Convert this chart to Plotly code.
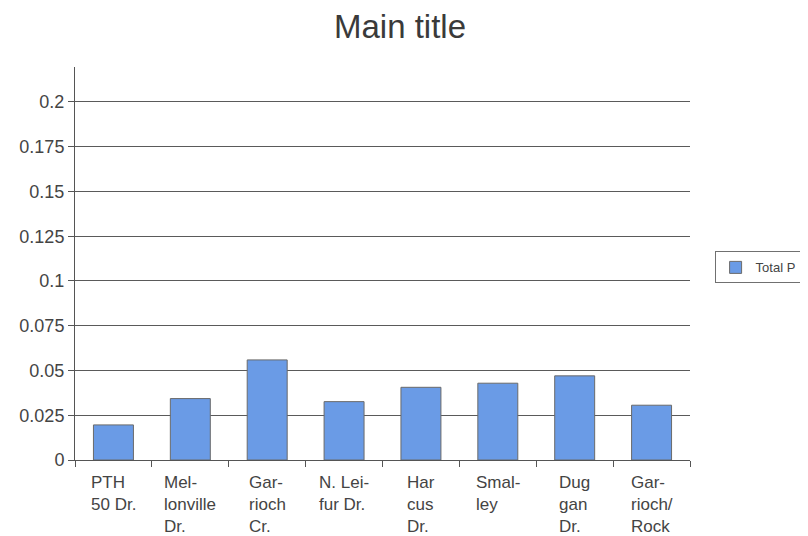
import plotly.graph_objects as go

categories = ["PTH 50 Dr.", "Mellonville Dr.", "Garrioch Cr.", "N. Leifur Dr.",
              "Harcus Dr.", "Smalley", "Duggan Dr.", "Garrioch/Rock"]
tick_labels = ["PTH<br>50 Dr.", "Mel-<br>lonville<br>Dr.", "Gar-<br>rioch<br>Cr.",
               "N. Lei-<br>fur Dr.", "Har<br>cus<br>Dr.", "Smal-<br>ley",
               "Dug<br>gan<br>Dr.", "Gar-<br>rioch/<br>Rock"]
total_p = [0.0196, 0.0343, 0.0559, 0.0326, 0.0406, 0.0429, 0.0470, 0.0306]
y_tickvals = [0, 0.025, 0.05, 0.075, 0.1, 0.125, 0.15, 0.175, 0.2]
y_ticktext = ["0", "0.025", "0.05", "0.075", "0.1", "0.125", "0.15", "0.175", "0.2"]

FONT = "Liberation Sans, Arial, sans-serif"

fig = go.Figure()
fig.add_trace(go.Bar(
    x=categories, y=total_p, name="Total P",
    marker=dict(color="#6a9be6", line=dict(color="#6a6a6a", width=1)),
    showlegend=True,
))

annotations = []
for c, t in zip(categories, tick_labels):
    annotations.append(dict(
        x=c, xref="x", y=-0.028, yref="paper", yanchor="top", xanchor="center",
        text=t, align="left", showarrow=False,
        font=dict(family=FONT, size=17, color="#444444"),
    ))

fig.update_layout(
    width=800, height=528,
    paper_bgcolor="white", plot_bgcolor="white",
    margin=dict(l=67, r=118, t=59, b=76, autoexpand=False),
    title=dict(text="Main title", x=0.49, xanchor="center", y=0.966, yanchor="middle",
               font=dict(family=FONT, size=33, color="#3a3a3a")),
    bargap=0.48,
    showlegend=True,
    legend=dict(x=1.04, xanchor="left", y=0.49, yanchor="middle",
                bordercolor="#707070", borderwidth=1, bgcolor="white",
                font=dict(family=FONT, size=13, color="#444444"),
                itemwidth=30),
    annotations=annotations,
)
fig.update_xaxes(
    showticklabels=False, ticks="outside", tickson="boundaries", ticklen=6,
    tickcolor="#555555", showline=True, linecolor="#555555", linewidth=1,
    showgrid=False, automargin=False,
)
fig.update_yaxes(
    range=[0, 0.2195], tickvals=y_tickvals, ticktext=y_ticktext,
    ticks="outside", ticklen=6, tickcolor="#555555",
    showline=True, linecolor="#555555", linewidth=1,
    showgrid=True, gridcolor="#5a5a5a", gridwidth=1,
    zeroline=False, automargin=False,
    tickfont=dict(family=FONT, size=18, color="#444444"),
)

fig.write_html("out.html")
